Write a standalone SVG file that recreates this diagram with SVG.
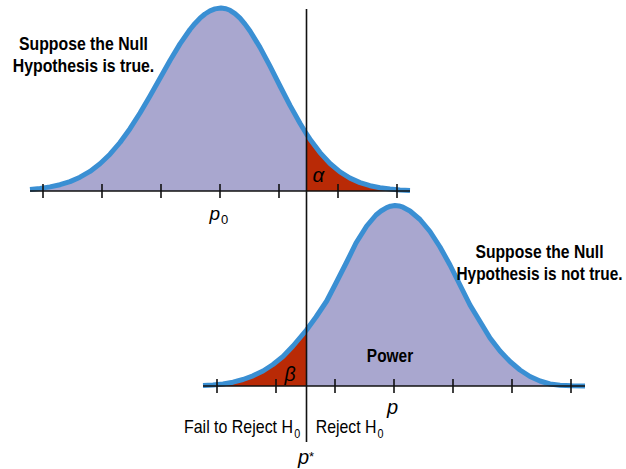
<svg xmlns="http://www.w3.org/2000/svg" width="626" height="469" viewBox="0 0 626 469">
<style>
.fill{fill:#a9a7cf;stroke:none}
.red{fill:#b92a06;stroke:none}
.curve{fill:none;stroke:#3a8fd3;stroke-width:5;stroke-linejoin:round;stroke-linecap:butt}
.axis{stroke:#111;stroke-width:1.6;fill:none}
.tick{stroke:#111;stroke-width:1.6}
.lbl{font-family:"Liberation Sans",Arial,sans-serif;font-weight:bold;font-size:18px;fill:#000}
.reg{font-family:"Liberation Sans",Arial,sans-serif;font-size:18.5px;fill:#000}
.sub{font-family:"Liberation Sans",Arial,sans-serif;font-size:13px;fill:#000}
.it{font-family:"Liberation Sans",Arial,sans-serif;font-style:italic;fill:#000}
</style>
<defs>
<path id="topCurve" d="M30,189.4 L40,188.4 L50,186.9 L60,184.7 L70,181.6 L80,177.2 L90,171.4 L100,163.7 L110,154.2 L120,142.5 L130,128.7 L140,113 L150,96 L160,78.2 L170,60.5 L180,43.9 L190,29.5 L195,23.4 L200,18.2 L205,14 L210,10.9 L215,8.9 L221,8 L226,8.7 L230,10.3 L235,13.6 L240,18.2 L245,24.1 L250,31 L260,47.4 L270,66.2 L280,86 L290,105.4 L300,123.3 L306.5,134 L310,139.2 L320,152.6 L330,163.5 L340,171.9 L350,178.1 L360,182.6 L370,185.7 L380,187.7 L390,189.1 L400,189.9 L410,190.4"/>
<path id="botCurve" d="M203,385.5 L213,385 L223,384 L233,382.2 L243,379.5 L253,375.8 L263,371 L273,364.5 L283,356.5 L293,346 L306.5,330 L316,317 L326.7,301 L336,283 L346.7,262 L356,243 L366.7,226 L376,215 L381,211 L386.7,207.6 L390.5,206.2 L395,205.5 L399,205.9 L403,207.2 L410,211 L420,219.5 L430,231.5 L440,247 L450,265 L460,285 L470,305 L480,321.5 L490,338 L500,351 L510,361.5 L520,370 L530,376.5 L540,381 L550,384 L560,385.3 L572,385.8 L585,386"/>
</defs>

<g id="null-distribution">
<path class="fill" d="M30,191 L30,189.4 L40,188.4 L50,186.9 L60,184.7 L70,181.6 L80,177.2 L90,171.4 L100,163.7 L110,154.2 L120,142.5 L130,128.7 L140,113 L150,96 L160,78.2 L170,60.5 L180,43.9 L190,29.5 L195,23.4 L200,18.2 L205,14 L210,10.9 L215,8.9 L221,8 L226,8.7 L230,10.3 L235,13.6 L240,18.2 L245,24.1 L250,31 L260,47.4 L270,66.2 L280,86 L290,105.4 L300,123.3 L306.5,134 L306.5,191 Z"/>
<path id="alpha-area" class="red" d="M306.5,191 L306.5,134 L310,139.2 L320,152.6 L330,163.5 L340,171.9 L350,178.1 L360,182.6 L370,185.7 L380,187.7 L390,189.1 L400,189.9 L410,190.4 L410,191 Z"/>
<use href="#topCurve" class="curve"/>
<line class="axis" x1="30" y1="191" x2="410" y2="191"/>
<g class="tick">
<line x1="43" y1="184" x2="43" y2="198"/>
<line x1="102" y1="184" x2="102" y2="198"/>
<line x1="161" y1="184" x2="161" y2="198"/>
<line x1="220" y1="184" x2="220" y2="198"/>
<line x1="279" y1="184" x2="279" y2="198"/>
<line x1="338" y1="184" x2="338" y2="198"/>
<line x1="397" y1="184" x2="397" y2="198"/>
</g>
<text class="lbl" x="83.5" y="50" text-anchor="middle" textLength="129" lengthAdjust="spacingAndGlyphs">Suppose the Null</text>
<text class="lbl" x="83.5" y="72" text-anchor="middle" textLength="141.5" lengthAdjust="spacingAndGlyphs">Hypothesis is true.</text>
<text class="it" x="312.5" y="181.7" font-size="20.5">α</text>
<text class="it" x="209.5" y="220" font-size="19">p</text>
<text class="sub" x="221" y="223.5" font-size="12">0</text>
</g>

<g id="alternative-distribution">
<path class="fill" d="M306.5,386 L306.5,330 L316,317 L326.7,301 L336,283 L346.7,262 L356,243 L366.7,226 L376,215 L381,211 L386.7,207.6 L390.5,206.2 L395,205.5 L399,205.9 L403,207.2 L410,211 L420,219.5 L430,231.5 L440,247 L450,265 L460,285 L470,305 L480,321.5 L490,338 L500,351 L510,361.5 L520,370 L530,376.5 L540,381 L550,384 L560,385.3 L572,385.8 L585,386 Z"/>
<path id="beta-area" class="red" d="M203,386 L203,385.5 L213,385 L223,384 L233,382.2 L243,379.5 L253,375.8 L263,371 L273,364.5 L283,356.5 L293,346 L306.5,330 L306.5,386 Z"/>
<use href="#botCurve" class="curve"/>
<line class="axis" x1="203" y1="386" x2="585" y2="386"/>
<g class="tick">
<line x1="217" y1="379" x2="217" y2="393"/>
<line x1="276" y1="379" x2="276" y2="393"/>
<line x1="335" y1="379" x2="335" y2="393"/>
<line x1="394" y1="379" x2="394" y2="393"/>
<line x1="453" y1="379" x2="453" y2="393"/>
<line x1="512" y1="379" x2="512" y2="393"/>
<line x1="571" y1="379" x2="571" y2="393"/>
</g>
<text class="lbl" x="539.5" y="258.3" text-anchor="middle" textLength="128" lengthAdjust="spacingAndGlyphs">Suppose the Null</text>
<text class="lbl" x="539.5" y="280" text-anchor="middle" textLength="166" lengthAdjust="spacingAndGlyphs">Hypothesis is not true.</text>
<text class="lbl" x="390" y="362.3" text-anchor="middle" textLength="46.3" lengthAdjust="spacingAndGlyphs">Power</text>
<text class="it" x="284.5" y="381" font-size="19.5">β</text>
<text class="it" x="387" y="413.7" font-size="20">p</text>
</g>

<g id="critical-value">
<line class="axis" x1="306.5" y1="9" x2="306.5" y2="442"/>
<text class="reg" x="184" y="432.7" textLength="109" lengthAdjust="spacingAndGlyphs">Fail to Reject H</text>
<text class="sub" x="294.3" y="438.3" textLength="6" lengthAdjust="spacingAndGlyphs">0</text>
<text class="reg" x="315.7" y="432.7" textLength="60.8" lengthAdjust="spacingAndGlyphs">Reject H</text>
<text class="sub" x="377.5" y="438.3" textLength="6" lengthAdjust="spacingAndGlyphs">0</text>
<text class="it" x="298" y="464" font-size="20">p</text>
<text class="sub" x="309" y="461" font-size="14">*</text>
</g>
</svg>
